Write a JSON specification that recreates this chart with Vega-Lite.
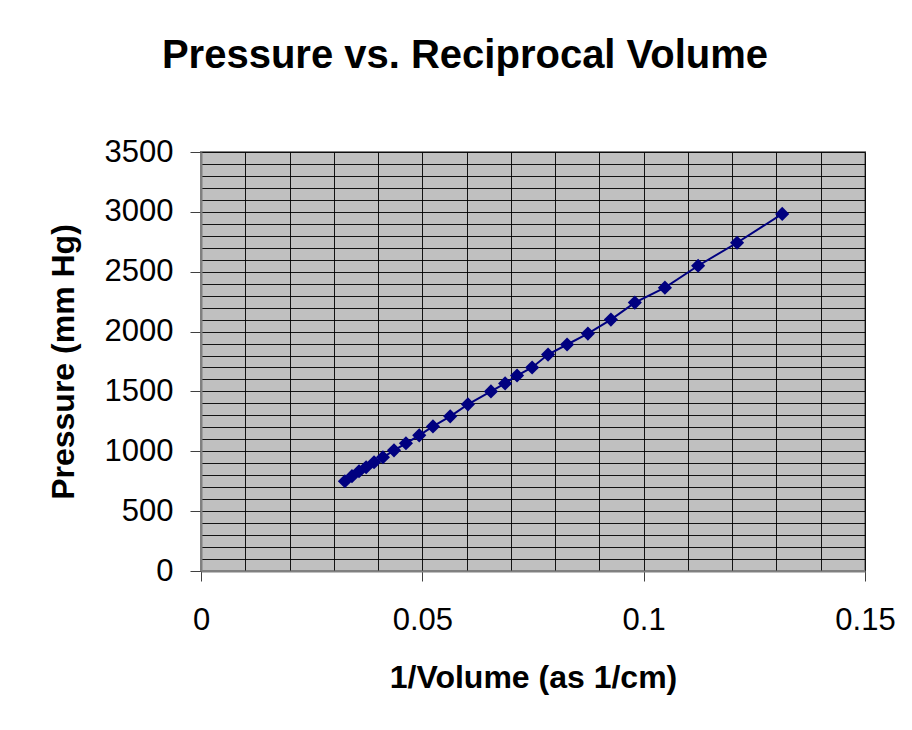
{
  "$schema": "https://vega.github.io/schema/vega-lite/v6.json",
  "width": 664,
  "height": 419,
  "autosize": {"type": "none"},
  "padding": {"left": 201, "top": 152, "right": 47, "bottom": 159},
  "background": "white",
  "title": {
    "text": "Pressure vs. Reciprocal Volume",
    "font": "Liberation Sans",
    "fontSize": 40,
    "fontWeight": "bold",
    "color": "black",
    "anchor": "middle",
    "frame": "group",
    "dx": -68,
    "offset": 28,
    "baseline": "alphabetic"
  },
  "data": {
    "values": [
      {"inv_volume": 0.0325, "pressure": 750},
      {"inv_volume": 0.0341, "pressure": 792},
      {"inv_volume": 0.0357, "pressure": 833},
      {"inv_volume": 0.0373, "pressure": 867},
      {"inv_volume": 0.0391, "pressure": 908},
      {"inv_volume": 0.0411, "pressure": 950},
      {"inv_volume": 0.0436, "pressure": 1008},
      {"inv_volume": 0.0463, "pressure": 1067},
      {"inv_volume": 0.0493, "pressure": 1133},
      {"inv_volume": 0.0524, "pressure": 1208},
      {"inv_volume": 0.0563, "pressure": 1292},
      {"inv_volume": 0.0603, "pressure": 1392},
      {"inv_volume": 0.0655, "pressure": 1500},
      {"inv_volume": 0.0687, "pressure": 1567},
      {"inv_volume": 0.0714, "pressure": 1633},
      {"inv_volume": 0.0748, "pressure": 1700},
      {"inv_volume": 0.0784, "pressure": 1808},
      {"inv_volume": 0.0827, "pressure": 1892},
      {"inv_volume": 0.0874, "pressure": 1983},
      {"inv_volume": 0.0926, "pressure": 2100},
      {"inv_volume": 0.0980, "pressure": 2242},
      {"inv_volume": 0.1048, "pressure": 2367},
      {"inv_volume": 0.1123, "pressure": 2550},
      {"inv_volume": 0.1211, "pressure": 2742},
      {"inv_volume": 0.1313, "pressure": 2983}
    ]
  },
  "encoding": {
    "x": {
      "field": "inv_volume",
      "type": "quantitative",
      "scale": {"domain": [0, 0.15], "nice": false, "zero": false},
      "axis": {
        "values": [0, 0.01, 0.02, 0.03, 0.04, 0.05, 0.06, 0.07, 0.08, 0.09, 0.1, 0.11, 0.12, 0.13, 0.14, 0.15],
        "labelExpr": "abs(datum.value*20 - round(datum.value*20)) < 0.001 ? format(datum.value, '~g') : ''",
        "title": "1/Volume (as 1/cm)",
        "grid": true,
        "gridColor": "#000000",
        "gridWidth": 1,
        "gridOpacity": 0.9,
        "domain": true,
        "domainColor": "#808080",
        "domainWidth": 2,
        "ticks": true,
        "tickSize": 10,
        "tickColor": "#404040",
        "tickWidth": 1,
        "tickOpacity": {"condition": {"test": "abs(datum.value*20 - round(datum.value*20)) < 0.001", "value": 1}, "value": 0},
        "labelFont": "Liberation Sans",
        "labelFontSize": 31,
        "labelColor": "black",
        "labelPadding": 24,
        "labelFlush": false,
        "labelOverlap": false,
        "titleFont": "Liberation Sans",
        "titleFontSize": 32,
        "titleFontWeight": "bold",
        "titleColor": "black",
        "titleY": 106,
        "titleBaseline": "middle"
      }
    },
    "y": {
      "field": "pressure",
      "type": "quantitative",
      "scale": {"domain": [0, 3500], "nice": false, "zero": true},
      "axis": {
        "values": [0, 100, 200, 300, 400, 500, 600, 700, 800, 900, 1000, 1100, 1200, 1300, 1400, 1500, 1600, 1700, 1800, 1900, 2000, 2100, 2200, 2300, 2400, 2500, 2600, 2700, 2800, 2900, 3000, 3100, 3200, 3300, 3400, 3500],
        "labelExpr": "datum.value % 500 == 0 ? format(datum.value, 'd') : ''",
        "title": "Pressure (mm Hg)",
        "grid": true,
        "gridColor": "#000000",
        "gridWidth": 1,
        "gridOpacity": 0.9,
        "domain": true,
        "domainColor": "#808080",
        "domainWidth": 2,
        "ticks": true,
        "tickSize": 11,
        "tickColor": "#404040",
        "tickWidth": 1,
        "tickOpacity": {"condition": {"test": "datum.value % 500 == 0", "value": 1}, "value": 0},
        "labelFont": "Liberation Sans",
        "labelFontSize": 31,
        "labelColor": "black",
        "labelPadding": 17,
        "labelFlush": false,
        "labelOverlap": false,
        "titleFont": "Liberation Sans",
        "titleFontSize": 32,
        "titleFontWeight": "bold",
        "titleColor": "black",
        "titleAngle": -90,
        "titleX": -138,
        "titleY": 209.5,
        "titleAlign": "center",
        "titleBaseline": "middle"
      }
    }
  },
  "layer": [
    {"mark": {"type": "line", "color": "#000080", "strokeWidth": 2}},
    {"mark": {"type": "point", "shape": "diamond", "filled": true, "size": 200, "color": "#000080", "opacity": 1}}
  ],
  "config": {
    "view": {"fill": "#C0C0C0", "stroke": "#808080", "strokeWidth": 2}
  }
}
